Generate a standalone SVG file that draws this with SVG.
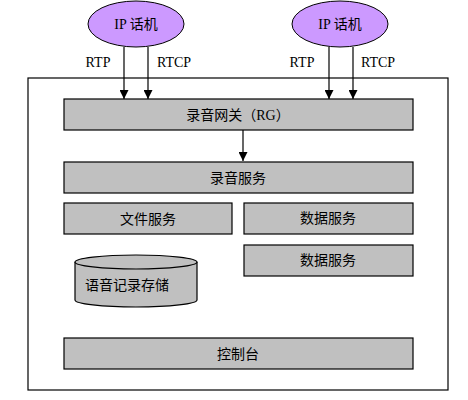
<svg xmlns="http://www.w3.org/2000/svg" width="468" height="400" viewBox="0 0 468 400">
<style>
.box{fill:#c0c0c0;stroke:#000;stroke-width:1.2}
.ph{fill:#cc99ff;stroke:#000;stroke-width:1}
.t{font-family:"Liberation Serif","Noto Sans CJK SC",serif;font-size:14px;fill:#000;text-anchor:middle;dominant-baseline:central}
.ln{stroke:#000;stroke-width:1.2;fill:none}
</style>
<defs>
<marker id="ah" viewBox="0 0 10 10" refX="10" refY="5" markerWidth="9" markerHeight="9" markerUnits="userSpaceOnUse" orient="auto">
<path d="M0,0 L10,5 L0,10 z" fill="#000"/>
</marker>
</defs>
<rect x="0" y="0" width="468" height="400" fill="#fff"/>
<rect id="frame" x="28" y="78" width="420" height="312" fill="none" stroke="#000" stroke-width="1.2"/>
<g id="phone1"><ellipse class="ph" cx="136" cy="24" rx="48" ry="23"/><text class="t" x="136" y="24">IP 话机</text></g>
<g id="phone2"><ellipse class="ph" cx="340" cy="24" rx="48" ry="23"/><text class="t" x="340" y="24">IP 话机</text></g>
<g id="rg"><rect class="box" x="64" y="99" width="349" height="31"/><text class="t" x="238" y="115">录音网关（RG）</text></g>
<g id="rec"><rect class="box" x="64" y="162" width="349" height="31"/><text class="t" x="238" y="178">录音服务</text></g>
<g id="file"><rect class="box" x="64" y="203" width="168" height="31"/><text class="t" x="148" y="219">文件服务</text></g>
<g id="data1"><rect class="box" x="244" y="203" width="169" height="31"/><text class="t" x="328" y="218">数据服务</text></g>
<g id="data2"><rect class="box" x="244" y="245" width="169" height="31"/><text class="t" x="328" y="260">数据服务</text></g>
<g id="store">
<path class="box" d="M75,262 L75,300 A61,7 0 0 0 197,300 L197,262"/>
<ellipse class="box" cx="136" cy="262" rx="61" ry="7"/>
<text class="t" x="127" y="285">语音记录存储</text>
</g>
<g id="console"><rect class="box" x="64" y="338" width="349" height="31"/><text class="t" x="238" y="354">控制台</text></g>
<g id="connectors">
<line class="ln" x1="124" y1="47" x2="124" y2="99" marker-end="url(#ah)"/>
<line class="ln" x1="148" y1="47" x2="148" y2="99" marker-end="url(#ah)"/>
<line class="ln" x1="329" y1="47" x2="329" y2="99" marker-end="url(#ah)"/>
<line class="ln" x1="353" y1="47" x2="353" y2="99" marker-end="url(#ah)"/>
<line class="ln" x1="243" y1="130" x2="243" y2="161" marker-end="url(#ah)"/>
<text class="t" x="98" y="62">RTP</text>
<text class="t" x="174" y="62">RTCP</text>
<text class="t" x="302" y="62">RTP</text>
<text class="t" x="378" y="62">RTCP</text>
</g>
</svg>
